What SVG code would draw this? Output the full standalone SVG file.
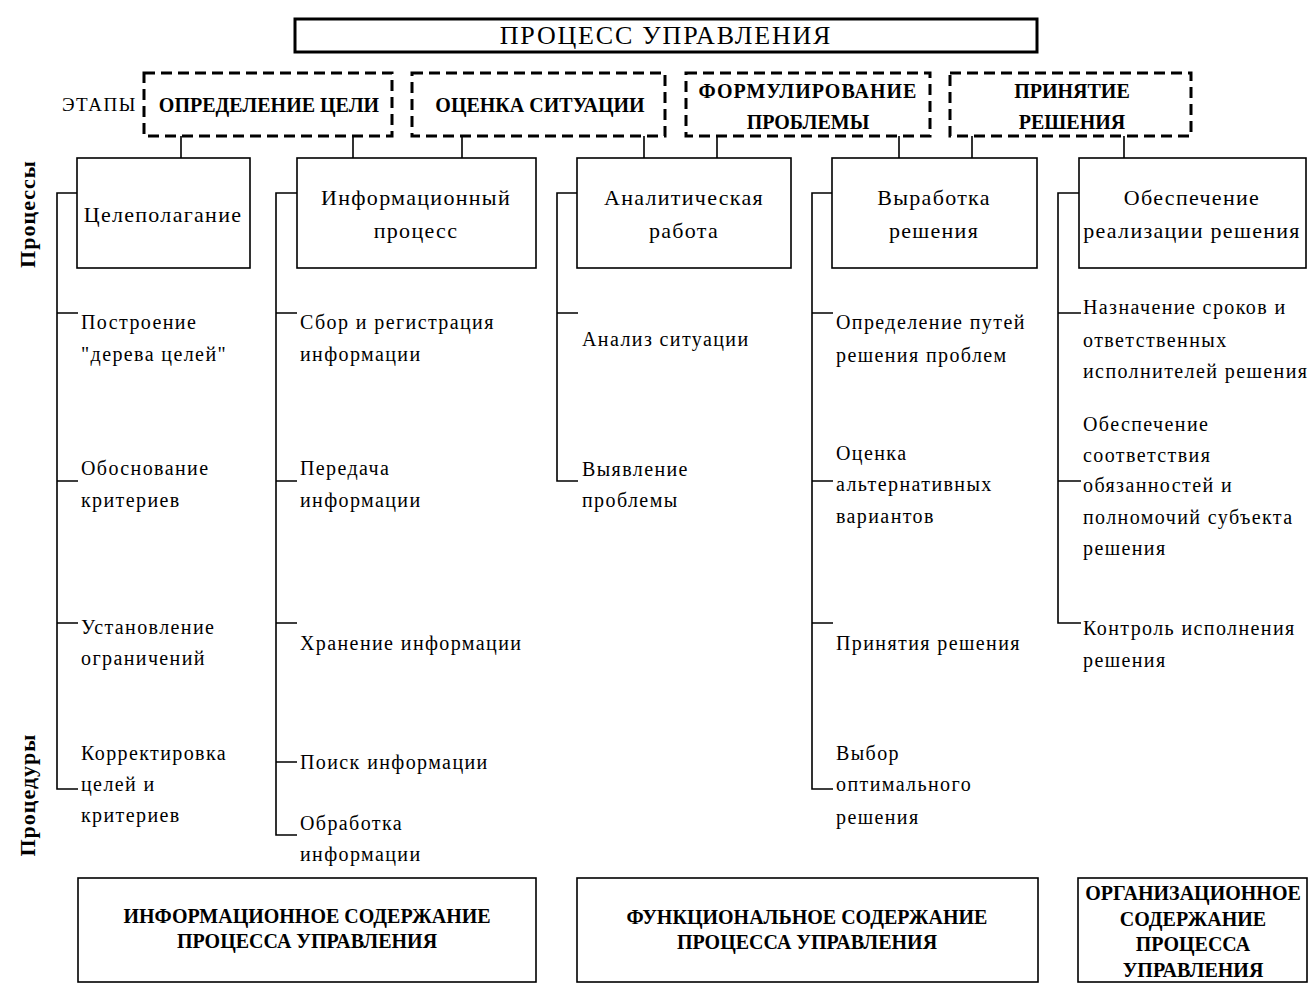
<svg xmlns="http://www.w3.org/2000/svg" width="1309" height="983" viewBox="0 0 1309 983">
<style>
  text { font-family: "Liberation Serif", "DejaVu Serif", serif; fill: #000; }
  .title { font-size: 26px; text-anchor: middle; letter-spacing: 1.8px; }
  .stage { font-size: 20px; font-weight: bold; text-anchor: middle; }
  .lbl { font-size: 19px; letter-spacing: 1.5px; }
  .proc { font-size: 22px; text-anchor: middle; letter-spacing: 1.3px; }
  .item { font-size: 20px; letter-spacing: 1.4px; }
  .side { font-size: 22px; font-weight: bold; text-anchor: middle; letter-spacing: 1px; }
  .bot { font-size: 20px; font-weight: bold; text-anchor: middle; }
  .thick { fill: #fff; stroke: #000; stroke-width: 3; }
  .dash { fill: #fff; stroke: #000; stroke-width: 3; stroke-dasharray: 11 6; }
  .box { fill: #fff; stroke: #000; stroke-width: 1.6; }
  .ln { fill: none; stroke: #000; stroke-width: 1.6; }
</style>
<rect width="1309" height="983" fill="#fff"/>

<g id="connectors">
  <path class="ln" d="M181 136V158 M353 136V158 M462 136V158 M644 136V158 M717 136V158 M899 136V158 M972 136V158 M1124 136V158"/>
  <path class="ln" d="M77 193H57V789H78 M57 313H78 M57 481H78 M57 623H78"/>
  <path class="ln" d="M297 193H276V835H297 M276 313H297 M276 481H297 M276 623H297 M276 762H297"/>
  <path class="ln" d="M577 193H557V481H578 M557 313H578"/>
  <path class="ln" d="M832 193H812V789H833 M812 313H833 M812 481H833 M812 623H833"/>
  <path class="ln" d="M1079 193H1058V623H1081 M1058 313H1081 M1058 481H1081"/>
</g>

<g id="title">
  <rect class="thick" x="295" y="19" width="742" height="33"/>
  <text class="title" x="666" y="44">ПРОЦЕСС УПРАВЛЕНИЯ</text>
</g>

<text class="lbl" x="62" y="111">ЭТАПЫ</text>

<g id="stage1">
  <rect class="dash" x="144" y="73" width="248" height="63"/>
  <text class="stage" x="269" y="112">ОПРЕДЕЛЕНИЕ ЦЕЛИ</text>
</g>
<g id="stage2">
  <rect class="dash" x="412" y="73" width="253" height="63"/>
  <text class="stage" x="540" y="112">ОЦЕНКА СИТУАЦИИ</text>
</g>
<g id="stage3">
  <rect class="dash" x="686" y="73" width="244" height="63"/>
  <text class="stage" x="808" y="98" style="letter-spacing:1px">ФОРМУЛИРОВАНИЕ</text>
  <text class="stage" x="808" y="129">ПРОБЛЕМЫ</text>
</g>
<g id="stage4">
  <rect class="dash" x="950" y="73" width="241" height="63"/>
  <text class="stage" x="1072" y="98">ПРИНЯТИЕ</text>
  <text class="stage" x="1072" y="129">РЕШЕНИЯ</text>
</g>

<g id="side-labels">
  <text class="side" transform="translate(35,214) rotate(-90)">Процессы</text>
  <text class="side" transform="translate(35,795) rotate(-90)">Процедуры</text>
</g>

<g id="proc1">
  <rect class="box" x="77" y="158" width="173" height="110"/>
  <text class="proc" x="163" y="222">Целеполагание</text>
</g>
<g id="proc2">
  <rect class="box" x="297" y="158" width="239" height="110"/>
  <text class="proc" x="416" y="205">Информационный</text>
  <text class="proc" x="416" y="238">процесс</text>
</g>
<g id="proc3">
  <rect class="box" x="577" y="158" width="214" height="110"/>
  <text class="proc" x="684" y="205">Аналитическая</text>
  <text class="proc" x="684" y="238">работа</text>
</g>
<g id="proc4">
  <rect class="box" x="832" y="158" width="205" height="110"/>
  <text class="proc" x="934" y="205">Выработка</text>
  <text class="proc" x="934" y="238">решения</text>
</g>
<g id="proc5">
  <rect class="box" x="1079" y="158" width="227" height="110"/>
  <text class="proc" x="1192" y="205">Обеспечение</text>
  <text class="proc" x="1192" y="238">реализации решения</text>
</g>

<g id="col1-items">
  <text class="item" x="81" y="329">Построение</text>
  <text class="item" x="81" y="361">"дерева целей"</text>
  <text class="item" x="81" y="475">Обоснование</text>
  <text class="item" x="81" y="507">критериев</text>
  <text class="item" x="81" y="634">Установление</text>
  <text class="item" x="81" y="665">ограничений</text>
  <text class="item" x="81" y="760">Корректировка</text>
  <text class="item" x="81" y="791">целей и</text>
  <text class="item" x="81" y="822">критериев</text>
</g>

<g id="col2-items">
  <text class="item" x="300" y="329">Сбор и регистрация</text>
  <text class="item" x="300" y="361">информации</text>
  <text class="item" x="300" y="475">Передача</text>
  <text class="item" x="300" y="507">информации</text>
  <text class="item" x="300" y="650">Хранение информации</text>
  <text class="item" x="300" y="769">Поиск информации</text>
  <text class="item" x="300" y="830">Обработка</text>
  <text class="item" x="300" y="861">информации</text>
</g>

<g id="col3-items">
  <text class="item" x="582" y="346">Анализ ситуации</text>
  <text class="item" x="582" y="476">Выявление</text>
  <text class="item" x="582" y="507">проблемы</text>
</g>

<g id="col4-items">
  <text class="item" x="836" y="329">Определение путей</text>
  <text class="item" x="836" y="362">решения проблем</text>
  <text class="item" x="836" y="460">Оценка</text>
  <text class="item" x="836" y="491">альтернативных</text>
  <text class="item" x="836" y="523">вариантов</text>
  <text class="item" x="836" y="650">Принятия решения</text>
  <text class="item" x="836" y="760">Выбор</text>
  <text class="item" x="836" y="791">оптимального</text>
  <text class="item" x="836" y="824">решения</text>
</g>

<g id="col5-items">
  <text class="item" x="1083" y="314">Назначение сроков и</text>
  <text class="item" x="1083" y="347">ответственных</text>
  <text class="item" x="1083" y="378">исполнителей решения</text>
  <text class="item" x="1083" y="431">Обеспечение</text>
  <text class="item" x="1083" y="462">соответствия</text>
  <text class="item" x="1083" y="492">обязанностей и</text>
  <text class="item" x="1083" y="524">полномочий субъекта</text>
  <text class="item" x="1083" y="555">решения</text>
  <text class="item" x="1083" y="635">Контроль исполнения</text>
  <text class="item" x="1083" y="667">решения</text>
</g>

<g id="bottom1">
  <rect class="box" x="78" y="878" width="458" height="104"/>
  <text class="bot" x="307" y="923">ИНФОРМАЦИОННОЕ СОДЕРЖАНИЕ</text>
  <text class="bot" x="307" y="948">ПРОЦЕССА УПРАВЛЕНИЯ</text>
</g>
<g id="bottom2">
  <rect class="box" x="577" y="878" width="461" height="104"/>
  <text class="bot" x="807" y="924">ФУНКЦИОНАЛЬНОЕ СОДЕРЖАНИЕ</text>
  <text class="bot" x="807" y="949">ПРОЦЕССА УПРАВЛЕНИЯ</text>
</g>
<g id="bottom3">
  <rect class="box" x="1078" y="878" width="229" height="104"/>
  <text class="bot" x="1193" y="900">ОРГАНИЗАЦИОННОЕ</text>
  <text class="bot" x="1193" y="926">СОДЕРЖАНИЕ</text>
  <text class="bot" x="1193" y="951">ПРОЦЕССА</text>
  <text class="bot" x="1193" y="977">УПРАВЛЕНИЯ</text>
</g>
</svg>
